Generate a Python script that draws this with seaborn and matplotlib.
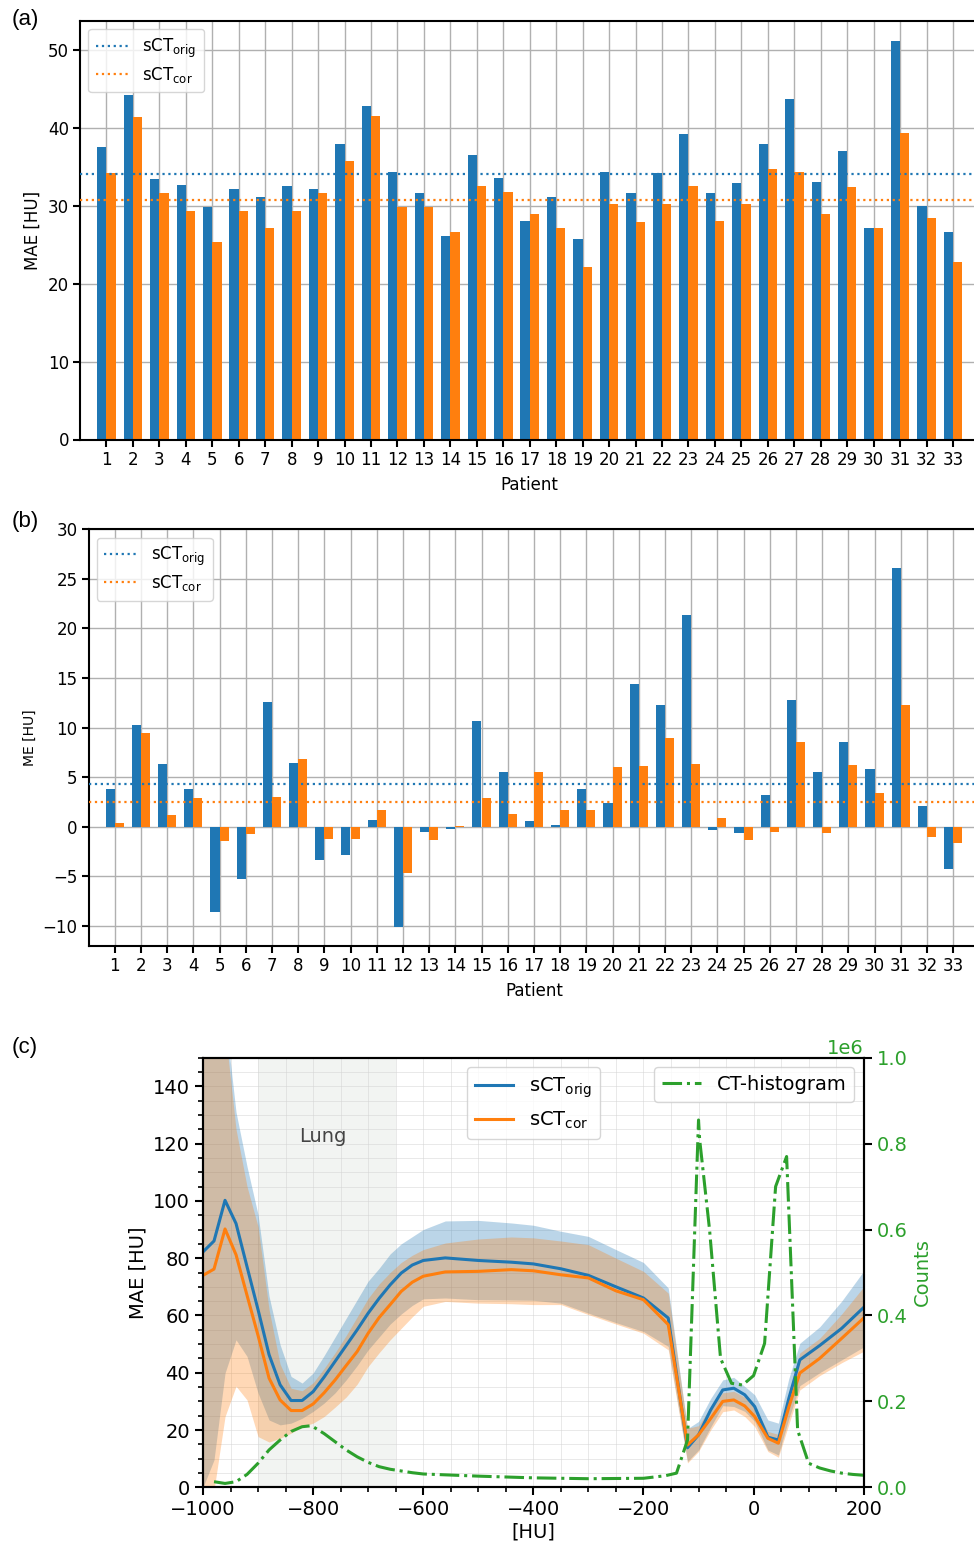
import numpy as np
import pandas as pd
import matplotlib
matplotlib.use("Agg")
import matplotlib.pyplot as plt
import seaborn as sns
from matplotlib.ticker import MultipleLocator

# ---------------- data ----------------
patients = list(range(1, 34))
mae_orig = [37.5, 44.2, 33.5, 32.7, 29.9, 32.2, 31.1, 32.6, 32.2, 38.0, 42.8, 34.3, 31.7, 26.1, 36.5, 33.6,
            28.1, 31.2, 25.7, 34.3, 31.6, 34.2, 39.2, 31.6, 32.9, 37.9, 43.7, 33.0, 37.1, 27.2, 51.2, 30.0, 26.6]
mae_cor = [34.2, 41.4, 31.7, 29.3, 25.3, 29.4, 27.1, 29.4, 31.7, 35.7, 41.5, 29.8, 29.8, 26.7, 32.6, 31.8,
           28.9, 27.2, 22.1, 30.2, 27.9, 30.3, 32.5, 28.0, 30.2, 34.7, 34.3, 28.9, 32.4, 27.2, 39.3, 28.5, 22.8]
me_orig = [3.77, 10.3, 6.3, 3.77, -8.6, -5.3, 12.56, 6.4, -3.37, -2.86, 0.64, -10.1, -0.54, -0.24, 10.64, 5.49,
           0.54, 0.13, 3.77, 2.36, 14.38, 12.26, 21.35, -0.34, -0.64, 3.16, 12.76, 5.49, 8.52, 5.79, 26.1, 2.05, -4.28]
me_cor = [0.34, 9.5, 1.14, 2.86, -1.45, -0.74, 2.96, 6.8, -1.25, -1.25, 1.65, -4.68, -1.35, 0.07, 2.86, 1.25,
          5.49, 1.65, 1.65, 5.99, 6.09, 8.92, 6.3, 0.84, -1.35, -0.54, 8.52, -0.64, 6.2, 3.37, 12.26, -1.04, -1.65]

hu_x = [-1000, -980, -960, -940, -920, -900, -880, -860, -840, -820, -800, -780, -760, -740, -720, -700,
        -680, -660, -640, -620, -600, -560, -500, -440, -400, -350, -300, -250, -200, -155, -120, -100,
        -78, -56, -36, -16, 2, 26, 45, 64, 84, 120, 160, 200]
orig_mean = [82.2, 86.0, 100.2, 92.1, 77.0, 62.0, 46.3, 35.8, 30.3, 30.3, 33.4, 38.5, 44.0, 49.5, 55.0, 60.8,
             66.0, 70.7, 74.8, 77.6, 79.2, 80.1, 79.2, 78.6, 78.0, 76.3, 74.0, 70.0, 66.1, 59.1, 13.8, 18.3,
             27.0, 34.0, 34.6, 32.3, 28.2, 17.5, 16.5, 31.0, 44.5, 49.5, 55.5, 62.8]
cor_mean = [74.0, 76.2, 90.2, 81.2, 67.0, 53.0, 38.1, 30.5, 26.8, 26.8, 29.1, 33.0, 37.5, 42.5, 47.4, 53.8,
            59.3, 63.8, 68.4, 71.6, 73.7, 75.2, 75.4, 76.0, 75.6, 74.2, 73.1, 68.6, 65.5, 56.8, 14.8, 18.3,
            24.0, 30.0, 30.5, 28.4, 24.7, 17.1, 15.4, 28.0, 39.9, 45.0, 52.0, 59.1]
orig_hi = [200, 200, 165, 131, 112, 95.2, 66.7, 49.8, 38.7, 36.4, 39.9, 46.0, 52.5, 59.0, 65.5, 72.0,
           76.5, 81.5, 85.0, 87.5, 90.0, 93.0, 93.2, 92.3, 91.5, 89.4, 87.6, 83.0, 78.5, 69.6, 20.5, 23.0,
           31.0, 37.5, 38.4, 35.2, 32.3, 23.5, 22.4, 38.0, 50.3, 56.0, 65.0, 75.5]
cor_hi = [190, 195, 160, 125, 105, 91, 62, 43, 34.6, 33.7, 36.5, 41.5, 47.0, 53.0, 59.5, 66.0,
          71.0, 75.0, 78.5, 81.0, 83.0, 85.3, 86.7, 87.4, 87.1, 86.0, 84.7, 80.0, 75.4, 67.8, 20.6, 21.5,
          28.0, 33.0, 33.5, 31.5, 28.0, 19.5, 18.5, 33.0, 46.9, 52.0, 60.5, 70.0]
orig_lo = [0, 9.6, 39.9, 51.5, 45.7, 32.9, 23.5, 21.8, 22.4, 24.1, 26.5, 29.4, 33.0, 37.5, 42.5, 48.0,
           52.5, 57.0, 60.5, 63.5, 65.8, 66.1, 65.5, 65.4, 65.3, 64.3, 60.8, 57.5, 54.4, 49.2, 9.0, 13.0,
           21.0, 28.5, 28.2, 26.5, 23.0, 13.0, 11.3, 24.0, 35.5, 40.0, 44.5, 49.0]
cor_lo = [-5, -1, 24.7, 35.3, 30.5, 17.7, 15.8, 17.1, 18.9, 21.2, 22.4, 24.7, 28.0, 31.5, 36.0, 42.2,
          47.0, 51.5, 55.5, 59.5, 63.2, 64.9, 64.3, 64.1, 63.8, 63.8, 60.3, 57.0, 53.8, 48.0, 8.5, 12.5,
          20.0, 26.4, 27.0, 24.7, 21.2, 12.5, 10.5, 22.0, 34.0, 39.0, 43.5, 47.5]

hist_x = [-980, -960, -940, -920, -900, -880, -860, -840, -820, -806, -800, -780, -760, -740, -720, -700,
          -680, -660, -640, -620, -600, -500, -400, -300, -200, -160, -140, -120, -100, -98, -80, -60,
          -40, -20, 0, 20, 40, 60, 80, 100, 120, 140, 160, 180, 200]
hist_counts_1e6 = [0.013, 0.009, 0.013, 0.030, 0.056, 0.087, 0.110, 0.130, 0.141, 0.143, 0.141, 0.125,
                   0.106, 0.087, 0.071, 0.058, 0.048, 0.042, 0.038, 0.034, 0.031, 0.026, 0.022, 0.020,
                   0.021, 0.027, 0.033, 0.11, 0.855, 0.81, 0.60, 0.30, 0.242, 0.238, 0.26, 0.335, 0.70,
                   0.77, 0.133, 0.056, 0.045, 0.038, 0.033, 0.030, 0.028]

lung_range = [-900, -650]
labels = [r'sCT$_{\mathrm{orig}}$', r'sCT$_{\mathrm{cor}}$']

C0, C1, C2 = '#1f77b4', '#ff7f0e', '#2ca02c'
W, H = 974, 1548

plt.rcParams['font.family'] = ['DejaVu Sans']
plt.rcParams['mathtext.fontset'] = 'dejavusans'

fig = plt.figure(figsize=(W / 100, H / 100), dpi=100)


def ax_at(l, t, r, b):
    return fig.add_axes([l / W, 1 - b / H, (r - l) / W, (b - t) / H])


def bar_panel(ax, orig, cor, ylabel, ylab_size):
    df = pd.DataFrame({
        'Patient': patients * 2,
        'val': orig + cor,
        'Method': ['orig'] * len(patients) + ['cor'] * len(patients),
    })
    ax.set_axisbelow(True)
    ax.grid(True, color='#b0b0b0', lw=1.0)
    sns.barplot(data=df, x='Patient', y='val', hue='Method', native_scale=True, width=0.7,
                palette=[C0, C1], saturation=1, errorbar=None, legend=False, ax=ax,
                linewidth=0, edgecolor='none', zorder=2)
    ax.axhline(np.mean(orig), color=C0, ls=':', lw=1.6, label=labels[0], zorder=3)
    ax.axhline(np.mean(cor), color=C1, ls=':', lw=1.6, label=labels[1], zorder=3)
    ax.set_xlim(0, 34)
    ax.set_xticks(patients)
    ax.set_xticklabels([str(p) for p in patients])
    ax.set_xlabel('Patient', fontsize=12, labelpad=5)
    ax.set_ylabel(ylabel, fontsize=ylab_size)
    for s in ax.spines.values():
        s.set_visible(True)
        s.set_linewidth(1.5)
        s.set_color('black')
    ax.tick_params(width=1.5, length=5, labelsize=12, color='black', labelcolor='black', pad=3)
    ax.legend(loc='upper left', fontsize=12, framealpha=0.8, edgecolor='0.8',
              handlelength=2.0, borderpad=0.45, labelspacing=0.3)


# ---------------- (a) ----------------
axa = ax_at(80, 20.5, 979.5, 439.5)
bar_panel(axa, mae_orig, mae_cor, 'MAE [HU]', 12)
axa.set_ylim(0, 53.8)
axa.set_yticks(np.arange(0, 51, 10))

# ---------------- (b) ----------------
axb = ax_at(88.5, 529.3, 979.3, 945.7)
bar_panel(axb, me_orig, me_cor, 'ME [HU]', 10)
axb.set_ylim(-12, 30)
axb.set_yticks(np.arange(-10, 31, 5))

# ---------------- (c) ----------------
axc = ax_at(203, 1057.7, 863.7, 1487.3)
axc.axvspan(lung_range[0], lung_range[1], color='#f2f4f2', zorder=0, lw=0)
axc.set_axisbelow(True)
axc.grid(True, which='both', color='#d4d4d4', lw=0.6, alpha=0.6)
axc.fill_between(hu_x, orig_lo, orig_hi, color=C0, alpha=0.3, lw=0, zorder=1)
axc.fill_between(hu_x, cor_lo, cor_hi, color=C1, alpha=0.3, lw=0, zorder=1)
sns.lineplot(x=hu_x, y=orig_mean, ax=axc, color=C0, lw=2.2, label=labels[0], zorder=3)
sns.lineplot(x=hu_x, y=cor_mean, ax=axc, color=C1, lw=2.2, label=labels[1], zorder=3)
axc.text(-782, 122.5, 'Lung', fontsize=14, color='#444444', ha='center', va='center')
axc.set_xlim(-1000, 200)
axc.set_ylim(0, 150)
axc.xaxis.set_major_locator(MultipleLocator(200))
axc.xaxis.set_minor_locator(MultipleLocator(50))
axc.yaxis.set_major_locator(MultipleLocator(20))
axc.yaxis.set_minor_locator(MultipleLocator(5))
axc.set_xlabel('[HU]', fontsize=14, labelpad=2)
axc.set_ylabel('MAE [HU]', fontsize=14)
for s in axc.spines.values():
    s.set_visible(True)
    s.set_linewidth(1.5)
    s.set_color('black')
axc.tick_params(which='major', width=1.5, length=6, labelsize=14, color='black', labelcolor='black')
axc.tick_params(which='minor', width=1.2, length=3.5, color='black')
axc.legend(loc='upper center', fontsize=14, framealpha=0.8, edgecolor='0.8')

ax2 = axc.twinx()
sns.lineplot(x=hist_x, y=np.array(hist_counts_1e6) * 1e6, ax=ax2, color=C2, lw=2.2,
             ls='-.', label='CT-histogram')
ax2.set_ylim(0, 1e6)
ax2.yaxis.set_major_locator(MultipleLocator(0.2e6))
ax2.tick_params(axis='y', width=1.5, length=6, labelsize=14, color='black', labelcolor=C2)
ax2.yaxis.get_offset_text().set_color(C2)
ax2.yaxis.get_offset_text().set_fontsize(14)
ax2.set_ylabel('Counts', fontsize=14, color=C2)
for s in ax2.spines.values():
    s.set_linewidth(1.5)
    s.set_color('black')
ax2.legend(loc='upper right', fontsize=14, framealpha=0.8, edgecolor='0.8')

# panel labels
for txt, y in [('(a)', 20), ('(b)', 522), ('(c)', 1048)]:
    fig.text(12 / W, 1 - y / H, txt, fontsize=16, va='center', ha='left',
             family=['Liberation Sans', 'DejaVu Sans'])

fig.savefig('out.png', dpi=100)
